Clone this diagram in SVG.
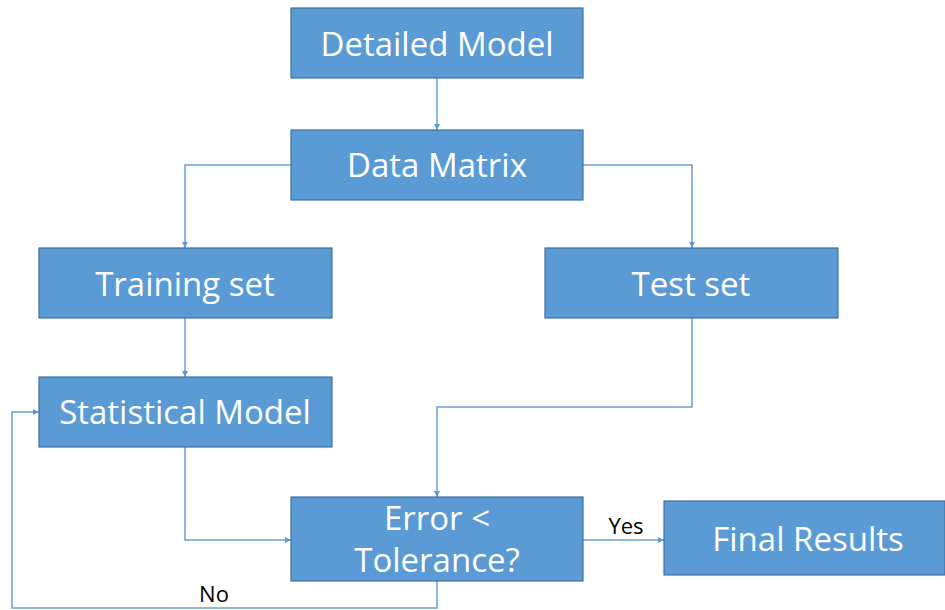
<svg xmlns="http://www.w3.org/2000/svg" width="945" height="610" viewBox="0 0 945 610">
  <style>
    .box { fill: #5B9BD5; stroke: #41719C; stroke-width: 1.2; }
    .lbl { fill: #FFFFFF; font-family: "Open Sans", "Liberation Sans", sans-serif; font-size: 33px; text-anchor: middle; }
    .edge { fill: none; stroke: #6A9FD4; stroke-width: 1.5; }
    .tag { fill: #000000; font-family: "Open Sans", "Liberation Sans", sans-serif; font-size: 22px; text-anchor: middle; }
  </style>
  <defs>
    <marker id="arrow" viewBox="0 0 10 10" refX="10" refY="5" markerWidth="6" markerHeight="6" markerUnits="userSpaceOnUse" orient="auto">
      <path d="M0,0 L10,5 L0,10 z" fill="#5B9BD5"/>
    </marker>
  </defs>
  <rect width="945" height="610" fill="#FFFFFF"/>

  <g id="connectors">
    <path class="edge" d="M437,78 V130" marker-end="url(#arrow)"/>
    <path class="edge" d="M291,165 H185 V248" marker-end="url(#arrow)"/>
    <path class="edge" d="M583,165 H692 V248" marker-end="url(#arrow)"/>
    <path class="edge" d="M185,318 V377" marker-end="url(#arrow)"/>
    <path class="edge" d="M692,318 V407 H437 V497" marker-end="url(#arrow)"/>
    <path class="edge" d="M185,447 V540 H291" marker-end="url(#arrow)"/>
    <path class="edge" d="M583,540 H664" marker-end="url(#arrow)"/>
    <path class="edge" d="M437,581 V608 H12 V412 H39" marker-end="url(#arrow)"/>
    <text class="tag" x="626" y="534">Yes</text>
    <text class="tag" x="214" y="602">No</text>
  </g>

  <g id="detailed-model">
    <rect class="box" x="291" y="8" width="292" height="70"/>
    <text class="lbl" x="437" y="56">Detailed Model</text>
  </g>
  <g id="data-matrix">
    <rect class="box" x="291" y="130" width="292" height="70"/>
    <text class="lbl" x="437" y="177">Data Matrix</text>
  </g>
  <g id="training-set">
    <rect class="box" x="39" y="248" width="293" height="70"/>
    <text class="lbl" x="185" y="296">Training set</text>
  </g>
  <g id="test-set">
    <rect class="box" x="545" y="248" width="293" height="70"/>
    <text class="lbl" x="691" y="296">Test set</text>
  </g>
  <g id="statistical-model">
    <rect class="box" x="39" y="377" width="293" height="70"/>
    <text class="lbl" x="185" y="424">Statistical Model</text>
  </g>
  <g id="error-check">
    <rect class="box" x="291" y="497" width="292" height="84"/>
    <text class="lbl" x="437" y="530">Error &lt;</text>
    <text class="lbl" x="437" y="572">Tolerance?</text>
  </g>
  <g id="final-results">
    <rect class="box" x="664" y="501" width="281" height="74"/>
    <text class="lbl" x="808" y="551">Final Results</text>
  </g>
</svg>
